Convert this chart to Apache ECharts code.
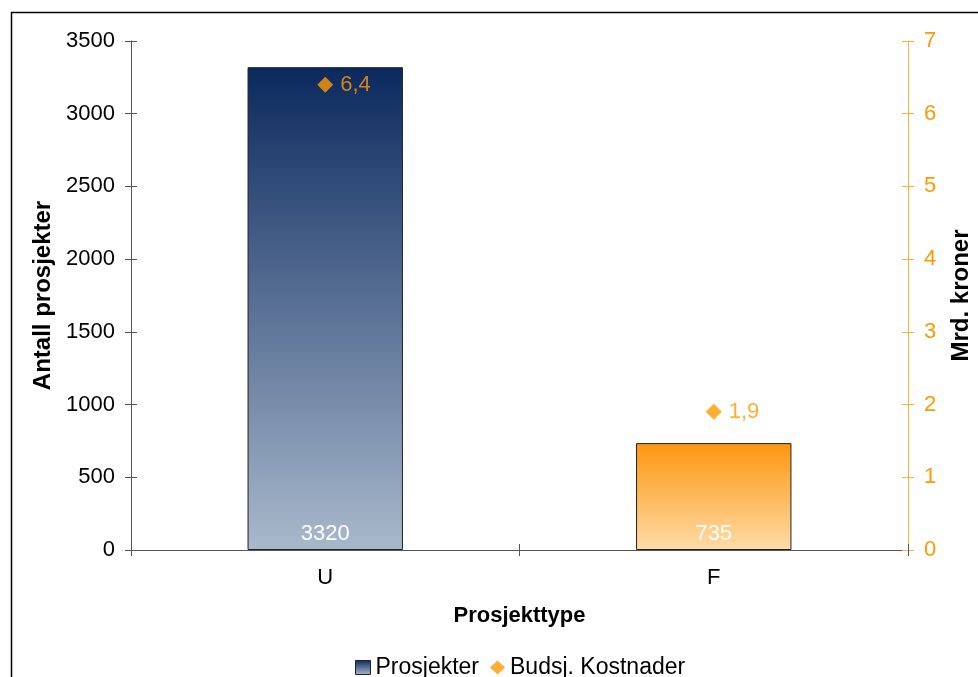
<!DOCTYPE html>
<html>
<head>
<meta charset="utf-8">
<script src="https://cdn.jsdelivr.net/npm/echarts@6/dist/echarts.min.js"></script>
<style>
  html, body { margin: 0; padding: 0; background: #fff; }
  #chart { width: 978px; height: 677px; }
</style>
</head>
<body>
<div id="chart"></div>
<script>
// data
const categories = ['U', 'F'];
const projectCounts = [3320, 735];
const budgetCosts = [6.4, 1.9];
const leftTicks = { min: 0, max: 3500, interval: 500 };
const rightTicks = { min: 0, max: 7, interval: 1 };

const orange = '#ff9900';
const lightOrange = '#ffb040';
const font = 'Arial, "Liberation Sans", sans-serif';
const fs = 22;

const navyFill = new echarts.graphic.LinearGradient(0, 0, 0, 1, [
    { offset: 0, color: '#0b295e' },
    { offset: 1, color: '#a9b9cc' }
]);
const orangeFill = new echarts.graphic.LinearGradient(0, 0, 0, 1, [
    { offset: 0, color: '#ff9610' },
    { offset: 1, color: '#fedca7' }
]);

const chart = echarts.init(document.getElementById('chart'), null, { renderer: 'canvas' });

// base axis look, the copies without labels/line give the ticks that cross the line
const yBase = (side, color, ticks, inside) => ({
    type: 'value',
    position: side,
    min: ticks.min,
    max: ticks.max,
    interval: ticks.interval,
    splitLine: { show: false },
    axisLine: { show: !inside, lineStyle: { color: color, width: 1 } },
    axisTick: { show: true, inside: inside, length: 6, lineStyle: { color: color } },
});

const option = {
    backgroundColor: '#ffffff',
    textStyle: { fontFamily: font },
    animation: false,
    grid: { left: 131, right: 70, top: 41, bottom: 127, outerBoundsMode: 'none', containLabel: false },
    graphic: [{
        type: 'rect',
        shape: { x: 11.5, y: 12.5, width: 1000, height: 700 },
        style: { fill: 'none', stroke: '#000', lineWidth: 1.5 },
        silent: true,
        z: -1
    }],
    legend: {
        top: 651,
        left: 350,
        itemWidth: 15,
        itemHeight: 14,
        itemGap: 11,
        textStyle: { fontSize: 23, color: '#000', fontFamily: font },
        data: [
            { name: 'Prosjekter', icon: 'rect', itemStyle: { color: navyFill, borderColor: '#222', borderWidth: 1 } },
            { name: 'Budsj. Kostnader', icon: 'diamond', itemStyle: { color: orange } }
        ]
    },
    xAxis: [
        {
            type: 'category',
            data: categories,
            name: 'Prosjekttype',
            nameLocation: 'middle',
            nameGap: 55,
            nameTextStyle: { fontSize: fs, fontWeight: 'bold', color: '#000' },
            axisLine: { lineStyle: { color: '#555' } },
            axisTick: { show: true, length: 6, lineStyle: { color: '#555' } },
            axisLabel: { fontSize: fs, color: '#000', margin: 17 }
        },
        {
            type: 'category',
            data: categories,
            position: 'bottom',
            axisLine: { show: false },
            axisTick: { show: true, inside: true, length: 6, lineStyle: { color: '#555' } },
            axisLabel: { show: false }
        }
    ],
    yAxis: [
        Object.assign(yBase('left', '#555', leftTicks, false), {
            name: 'Antall prosjekter',
            nameLocation: 'middle',
            nameGap: 76,
            nameTextStyle: { fontSize: 24, fontWeight: 'bold', color: '#000' },
            axisLabel: { fontSize: fs, color: '#000', margin: 16, formatter: (v) => String(v) }
        }),
        Object.assign(yBase('right', lightOrange, rightTicks, false), {
            name: 'Mrd. kroner',
            nameLocation: 'middle',
            nameGap: 41,
            nameTextStyle: { fontSize: 24, fontWeight: 'bold', color: '#000' },
            axisLabel: { fontSize: fs, color: orange, margin: 16 }
        }),
        Object.assign(yBase('left', '#555', leftTicks, true), { axisLabel: { show: false } }),
        Object.assign(yBase('right', lightOrange, rightTicks, true), { axisLabel: { show: false } })
    ],
    series: [
        {
            name: 'Prosjekter',
            type: 'bar',
            xAxisIndex: 0,
            yAxisIndex: 0,
            barWidth: '40%',
            data: projectCounts.map((v, i) => ({
                value: v,
                itemStyle: { color: i === 0 ? navyFill : orangeFill }
            })),
            itemStyle: { borderColor: '#222', borderWidth: 1 },
            label: {
                show: true,
                position: 'insideBottom',
                distance: 5,
                color: '#fff',
                fontSize: fs
            }
        },
        {
            name: 'Budsj. Kostnader',
            type: 'scatter',
            xAxisIndex: 0,
            yAxisIndex: 1,
            symbol: 'diamond',
            symbolSize: 16,
            itemStyle: { color: orange },
            data: budgetCosts,
            z: 5,
            label: {
                show: true,
                position: 'right',
                distance: 7,
                color: orange,
                fontSize: fs,
                formatter: (p) => String(p.value).replace('.', ',')
            }
        }
    ]
};

chart.setOption(option);
</script>
</body>
</html>
